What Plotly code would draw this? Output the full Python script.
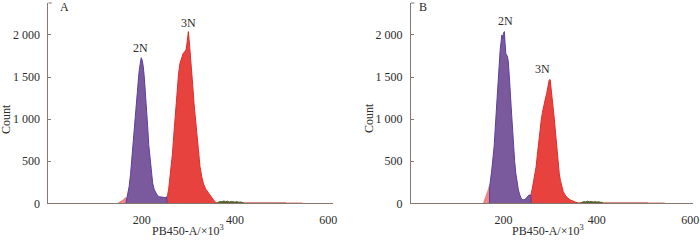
import plotly.graph_objects as go

# ---------------- data (x in 10^3 units, y = count) ----------------
A_2N_x = [166, 170, 173, 176, 178.5, 181, 183.5, 186, 189, 191.5, 194, 196.5, 199, 201, 203.4, 205.5,
          207.7, 210, 212.8, 215, 218, 220.5, 223.5, 227, 230.7, 234, 238, 242, 246, 250, 253.5, 254]
A_2N_y = [0, 110, 197, 340, 515, 690, 870, 1070, 1267, 1420, 1545, 1650, 1730, 1700, 1623, 1500,
          1346, 1130, 910, 700, 515, 360, 238, 160, 119, 90, 78, 70, 71, 66, 78, 0]

A_3N_x = [254, 255, 258, 260, 263, 266, 268.5, 271, 273.5, 276, 279, 282, 285.5, 289, 292, 295, 297,
          298.5, 300, 301.5, 303.7, 305.5, 307, 309.5, 312, 315, 318, 321.5, 325, 328.5, 332, 337,
          343, 348, 354, 360]
A_3N_y = [0, 78, 180, 277, 430, 594, 790, 990, 1190, 1386, 1540, 1664, 1740, 1783, 1800, 1822, 1900,
          1980, 2040, 1950, 1822, 1700, 1584, 1390, 1188, 990, 792, 600, 435, 320, 238, 170,
          119, 75, 40, 0]

A_tail_x = [149, 155, 160, 166, 172]
A_tail_y = [0, 20, 40, 70, 0]

A_debris_x = [360, 364, 368, 372, 376, 380, 384, 388, 392, 396, 400, 404, 408, 412, 416, 420]
A_debris_y = [0, 15, 22, 18, 28, 20, 25, 15, 22, 18, 14, 20, 12, 16, 10, 0]

B_2N_x = [170, 170.5, 175, 180, 184.4, 188.6, 193, 196.6, 198.5, 200, 202, 203.5, 205, 207, 208.6,
          210.5, 212, 214, 216.5, 219, 221.4, 224, 226.5, 229, 232, 235, 238, 241, 244, 247, 250,
          253, 255, 258.5, 259]
B_2N_y = [0, 197, 396, 673, 1070, 1465, 1822, 2000, 1960, 2020, 2040, 1900, 1783, 1760, 1743,
          1680, 1584, 1380, 1148, 900, 673, 500, 356, 250, 158, 100, 59, 45, 40, 50, 67,
          85, 99, 99, 0]

B_3N_x = [259, 259.5, 262, 264, 267, 270, 272.5, 275, 278, 281, 283.5, 285.6, 288, 290.8, 292.5, 294,
          296, 298, 300, 301.5, 302.8, 305, 307, 309, 311, 313, 315, 317, 319.5, 322, 325, 328, 332,
          337, 343, 348, 354, 360]
B_3N_y = [0, 119, 180, 238, 330, 435, 570, 713, 850, 990, 1080, 1148, 1220, 1267, 1300, 1346,
          1400, 1465, 1470, 1400, 1307, 1200, 1109, 1000, 871, 730, 594, 470, 356, 270, 197, 140, 99,
          65, 40, 25, 15, 0]

B_tail_x = [157, 162, 166, 170, 174]
B_tail_y = [0, 70, 140, 210, 0]

B_debris_x = [364, 368, 372, 376, 380, 384, 388, 392, 396, 400, 404, 408, 412, 414]
B_debris_y = [0, 14, 20, 16, 24, 18, 22, 15, 20, 14, 18, 12, 10, 0]

base_dark_x = [215, 510]
base_dark_y = [10, 10]
base_light_x = [510, 545]
base_light_y = [10, 10]

y_tickvals = [0, 500, 1000, 1500, 2000]
y_ticktext = ["0", "500", "1 000", "1 500", "2 000"]
x_tickvals = [200, 400, 600]
x_ticktext = ["200", "400", "600"]

# ---------------- styling ----------------
W, H = 700, 240
FONT = "Liberation Serif, Times New Roman, serif"
TXT = "#2b2b2b"
AX = "#85796f"
PURPLE_FILL = "#7a5a9c"
PURPLE_LINE = "#5b3f9e"
RED_FILL = "#e8423f"
RED_LINE = "#e02c2c"
TAIL = "rgba(240,110,105,0.85)"
OLIVE = "#56612c"


def px(x):
    return x / W


def py(y):
    return 1 - y / H


fig = go.Figure()


def add_panel(xa, ya, tail_x, tail_y, red_x, red_y, pur_x, pur_y, deb_x, deb_y):
    common = dict(xaxis=xa, yaxis=ya, mode="lines", fill="tozeroy", showlegend=False, hoverinfo="skip")
    fig.add_trace(go.Scatter(x=base_dark_x, y=base_dark_y, line=dict(color="#c9605a", width=0.5),
                             fillcolor="#c9605a", **common))
    fig.add_trace(go.Scatter(x=base_light_x, y=base_light_y, line=dict(color="#eaa8a4", width=0.5),
                             fillcolor="#eaa8a4", **common))
    fig.add_trace(go.Scatter(x=tail_x, y=tail_y, line=dict(color=TAIL, width=0.8),
                             fillcolor=TAIL, **common))
    fig.add_trace(go.Scatter(x=deb_x, y=deb_y, line=dict(color=OLIVE, width=1),
                             fillcolor=OLIVE, **common))
    fig.add_trace(go.Scatter(x=red_x, y=red_y, line=dict(color=RED_LINE, width=1),
                             fillcolor=RED_FILL, **common))
    fig.add_trace(go.Scatter(x=pur_x, y=pur_y, line=dict(color=PURPLE_LINE, width=1),
                             fillcolor=PURPLE_FILL, **common))


add_panel("x", "y", A_tail_x, A_tail_y, A_3N_x, A_3N_y, A_2N_x, A_2N_y, A_debris_x, A_debris_y)
add_panel("x2", "y2", B_tail_x, B_tail_y, B_3N_x, B_3N_y, B_2N_x, B_2N_y, B_debris_x, B_debris_y)

ydom = [py(203.3), py(3)]
yax = dict(domain=ydom, range=[0, 2380], tickvals=y_tickvals, ticktext=y_ticktext,
           ticks="inside", ticklen=3, tickcolor=AX, tickwidth=1, showline=True, linecolor=AX,
           linewidth=1, showgrid=False, zeroline=False, fixedrange=True, automargin=False,
           tickfont=dict(family=FONT, size=12, color=TXT), ticklabelstandoff=5)
xax = dict(tickvals=x_tickvals, ticktext=x_ticktext, ticks="", showline=True, linecolor=AX,
           linewidth=1, showgrid=False, zeroline=False, fixedrange=True, automargin=False,
           tickfont=dict(family=FONT, size=12, color=TXT), ticklabelstandoff=5)

fig.update_layout(
    width=W, height=H, margin=dict(l=0, r=0, t=0, b=0, pad=0),
    paper_bgcolor="white", plot_bgcolor="white",
    xaxis=dict(domain=[px(48.4), px(333)], range=[0, 610], anchor="y", **xax),
    yaxis=dict(anchor="x", **yax),
    xaxis2=dict(domain=[px(411), px(693)], range=[2, 606], anchor="y2", **xax),
    yaxis2=dict(anchor="x2", **yax),
    font=dict(family=FONT, size=12, color=TXT),
)

ann = []


def text(x, y, s, xref="paper", yref="paper", angle=0, yanchor="middle"):
    ann.append(dict(x=x, y=y, xref=xref, yref=yref, text=s, showarrow=False, textangle=angle,
                    xanchor="center", yanchor=yanchor, font=dict(family=FONT, size=12, color=TXT)))


# axis titles
text(px(6), py(119), "Count", angle=-90)
text(px(369), py(118), "Count", angle=-90)
text(px(187.5), 0, "PB450-A/×10<sup>3</sup>", yanchor="bottom")
text(px(547.5), 0, "PB450-A/×10<sup>3</sup>", yanchor="bottom")
# panel letters
text(px(64), py(7), "A")
text(px(423), py(7), "B")
# peak labels (data coords)
text(198.4, 1840, "2N", "x", "y")
text(301, 2148, "3N", "x", "y")
text(205, 2172, "2N", "x2", "y2")
text(283.6, 1590, "3N", "x2", "y2")
fig.update_layout(annotations=ann)

# small cap at the top of each y axis
for xr in ["x domain", "x2 domain"]:
    fig.add_shape(type="line", xref=xr, yref="paper", x0=0, x1=0.012, y0=ydom[1], y1=ydom[1],
                  line=dict(color=AX, width=1))

fig.write_html("out.html", config={"displayModeBar": False},
               post_script="document.body.style.margin='0px';document.body.style.padding='0px';")
